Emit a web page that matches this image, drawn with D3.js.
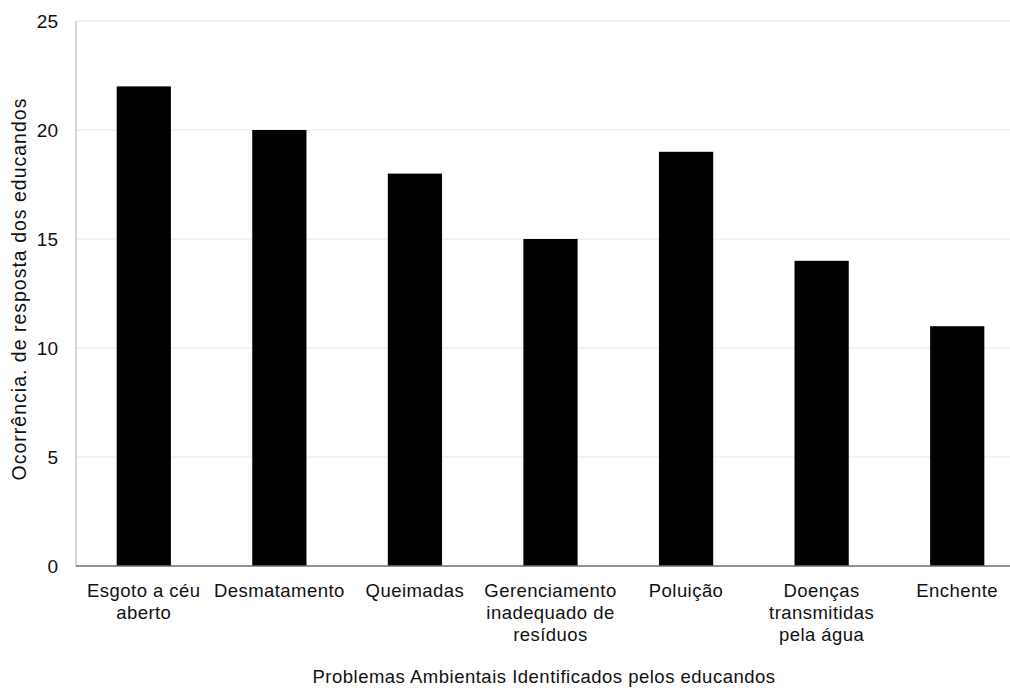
<!DOCTYPE html>
<html>
<head>
<meta charset="utf-8">
<script src="https://cdn.jsdelivr.net/npm/d3@7/dist/d3.min.js"></script>
<style>
  html, body { margin: 0; padding: 0; background: #fff; }
  svg { display: block; font-family: "Liberation Sans", Arial, sans-serif; }
</style>
</head>
<body>
<svg id="chart" width="1010" height="688"></svg>
<script>
// Environmental problems named by the students, and how often each came up
const categories = [
  "Esgoto a céu aberto",
  "Desmatamento",
  "Queimadas",
  "Gerenciamento inadequado de resíduos",
  "Poluição",
  "Doenças transmitidas pela água",
  "Enchente"
];
const categoryLines = [
  ["Esgoto a céu", "aberto"],
  ["Desmatamento"],
  ["Queimadas"],
  ["Gerenciamento", "inadequado de", "resíduos"],
  ["Poluição"],
  ["Doenças", "transmitidas", "pela água"],
  ["Enchente"]
];
const occurrences = [22, 20, 18, 15, 19, 14, 11];
const yTicks = [0, 5, 10, 15, 20, 25];
const xTitle = "Problemas Ambientais Identificados pelos educandos";
const yTitle = "Ocorrência. de resposta dos educandos";

const svg = d3.select("#chart");
const plot = { left: 76, right: 1025, top: 21, bottom: 566 };

const x = d3.scaleBand()
  .domain(categories)
  .range([plot.left, plot.right])
  .paddingInner(0.6)
  .paddingOuter(0.3);

const y = d3.scaleLinear()
  .domain([0, 25])
  .range([plot.bottom, plot.top]);

// horizontal gridlines
svg.append("g")
  .selectAll("line")
  .data(yTicks.filter(d => d > 0))
  .join("line")
  .attr("x1", plot.left)
  .attr("x2", 1010)
  .attr("y1", d => y(d))
  .attr("y2", d => y(d))
  .attr("stroke", "#e6e6e6")
  .attr("stroke-width", 1);

// left axis line
svg.append("line")
  .attr("x1", plot.left).attr("x2", plot.left)
  .attr("y1", plot.top).attr("y2", plot.bottom)
  .attr("stroke", "#bdbdbd")
  .attr("stroke-width", 1.2);

// bars
svg.append("g")
  .selectAll("rect")
  .data(categories)
  .join("rect")
  .attr("x", d => x(d))
  .attr("width", x.bandwidth())
  .attr("y", (d, i) => y(occurrences[i]))
  .attr("height", (d, i) => y(0) - y(occurrences[i]))
  .attr("fill", "#000");

// baseline
svg.append("line")
  .attr("x1", plot.left).attr("x2", 1010)
  .attr("y1", plot.bottom).attr("y2", plot.bottom)
  .attr("stroke", "#6e6e6e")
  .attr("stroke-width", 1.3);

// y tick labels
svg.append("g")
  .selectAll("text")
  .data(yTicks)
  .join("text")
  .attr("x", 58)
  .attr("y", d => y(d))
  .attr("dy", "0.35em")
  .attr("text-anchor", "end")
  .attr("font-size", 19)
  .attr("fill", "#111")
  .text(d => d);

// category labels, wrapped onto several lines
const catLabels = svg.append("g")
  .selectAll("text")
  .data(categories)
  .join("text")
  .attr("text-anchor", "middle")
  .attr("font-size", 18.5)
  .attr("letter-spacing", 0.45)
  .attr("fill", "#111")
  .attr("transform", d => `translate(${x(d) + x.bandwidth() / 2},597)`);
catLabels.each(function(d, i) {
  d3.select(this).selectAll("tspan")
    .data(categoryLines[i])
    .join("tspan")
    .attr("x", 0)
    .attr("y", (t, j) => j * 22)
    .text(t => t);
});

// axis titles
svg.append("text")
  .attr("x", 544)
  .attr("y", 683)
  .attr("text-anchor", "middle")
  .attr("font-size", 18.5)
  .attr("letter-spacing", 0.5)
  .attr("fill", "#111")
  .text(xTitle);

svg.append("text")
  .attr("transform", `translate(26,289) rotate(-90)`)
  .attr("text-anchor", "middle")
  .attr("font-size", 19.5)
  .attr("letter-spacing", 1)
  .attr("fill", "#111")
  .text(yTitle);
</script>
</body>
</html>
